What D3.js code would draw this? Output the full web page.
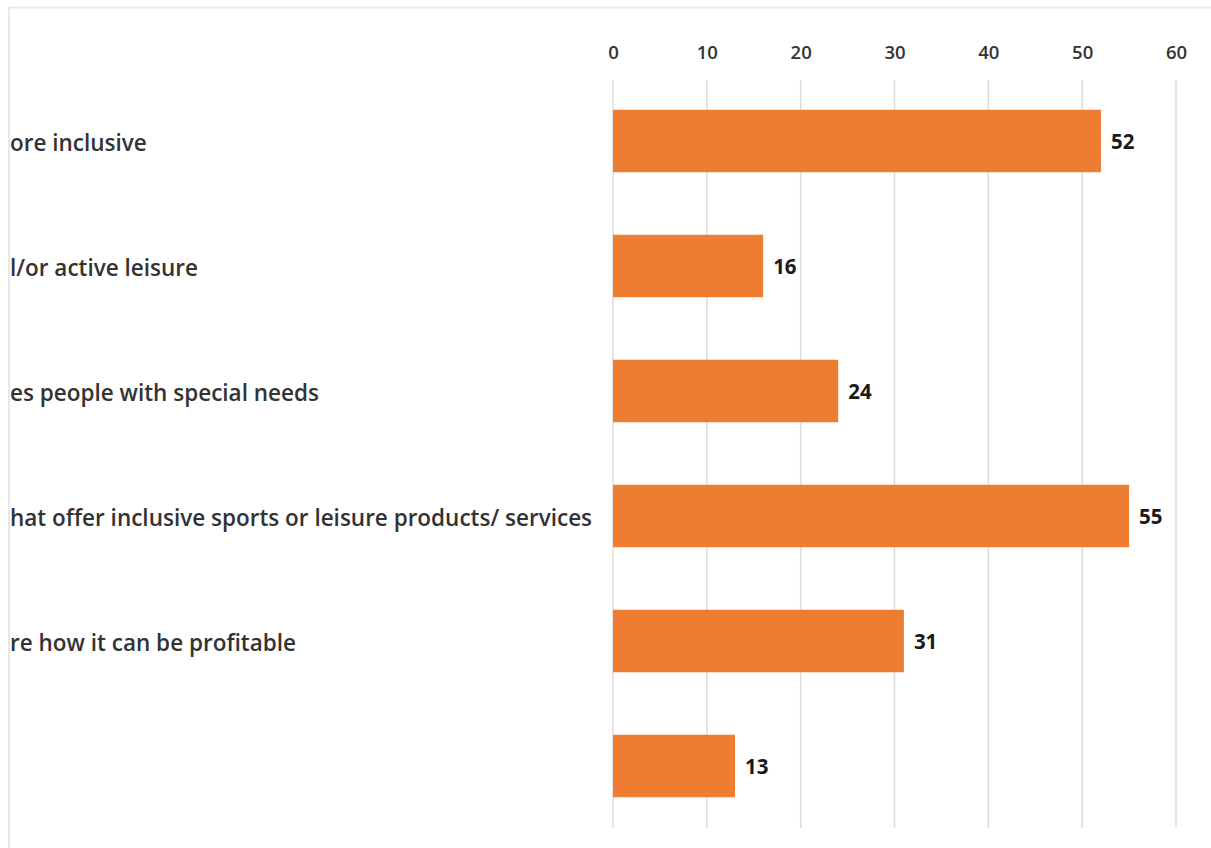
<!DOCTYPE html>
<html>
<head>
<meta charset="utf-8">
<script src="https://cdn.jsdelivr.net/npm/d3@7"></script>
<style>
  html, body { margin: 0; padding: 0; background: #fff; }
  svg { display: block; }
</style>
</head>
<body>
<script>
// Category labels (as they appear in the cropped panel) and their values
const categories = [
  "ore inclusive",
  "l/or active leisure",
  "es people with special needs",
  "hat offer inclusive sports or leisure products/ services",
  "re how it can be profitable",
  ""
];
const values = [52, 16, 24, 55, 31, 13];
const tickValues = [0, 10, 20, 30, 40, 50, 60];

const W = 1211, H = 848;
const svg = d3.select("body").append("svg").attr("width", W).attr("height", H);

// Outer frame (top and left edges visible)
svg.append("line").attr("x1", 9).attr("x2", W).attr("y1", 7.5).attr("y2", 7.5)
  .attr("stroke", "#e8e8e8").attr("stroke-width", 2);
svg.append("line").attr("x1", 9).attr("x2", 9).attr("y1", 7).attr("y2", H)
  .attr("stroke", "#e8e8e8").attr("stroke-width", 2);

const x = d3.scaleLinear().domain([0, 60]).range([613, 1176]);
const y = d3.scaleBand().domain(d3.range(categories.length))
  .range([78.5, 828.5]).paddingInner(0.5).paddingOuter(0.25);

// Vertical gridlines
svg.append("g").selectAll("line").data(tickValues).join("line")
  .attr("x1", d => x(d)).attr("x2", d => x(d))
  .attr("y1", 80).attr("y2", 828)
  .attr("stroke", "#dcdcdc").attr("stroke-width", 1.5);

// Top axis labels
const axis = svg.append("g").attr("transform", "translate(0,53)")
  .call(d3.axisTop(x).tickValues(tickValues).tickSize(0).tickPadding(0));
axis.select(".domain").remove();
axis.selectAll("text")
  .attr("font-family", "'Open Sans', Lato, sans-serif")
  .attr("font-size", 18.5).attr("font-weight", 600)
  .attr("fill", "#333333").attr("dy", "0.35em");

// Bars
svg.append("g").selectAll("rect").data(values).join("rect")
  .attr("x", x(0)).attr("y", (d, i) => y(i))
  .attr("width", d => x(d) - x(0)).attr("height", y.bandwidth())
  .attr("fill", "#ED7D31");

// Value labels
svg.append("g").selectAll("text").data(values).join("text")
  .attr("x", d => x(d) + 10).attr("y", (d, i) => y(i) + y.bandwidth() / 2 + 1)
  .attr("dy", "0.36em")
  .attr("font-family", "'Open Sans', Lato, sans-serif")
  .attr("font-size", 20.5).attr("font-weight", 700)
  .attr("fill", "#1a1a1a")
  .text(d => d);

// Category labels, clipped at the frame's left edge
svg.append("clipPath").attr("id", "labelClip")
  .append("rect").attr("x", 10).attr("y", 0).attr("width", 600).attr("height", H);
const labels = svg.append("g").attr("clip-path", "url(#labelClip)")
  .selectAll("text").data(categories).join("text")
  .attr("x", 10).attr("y", (d, i) => y(i) + y.bandwidth() / 2 + 2)
  .attr("dy", "0.35em")
  .attr("font-family", "'Open Sans', Lato, sans-serif")
  .attr("font-size", 20).attr("font-weight", 600)
  .attr("fill", "#333333")
  .text(d => d);

// Size the label font so the longest label ends just left of the axis
const longest = d3.max(labels.nodes(), n => n.getComputedTextLength());
const labelSize = 20 * 582 / longest;
labels.attr("font-size", labelSize.toFixed(2));
</script>
</body>
</html>
